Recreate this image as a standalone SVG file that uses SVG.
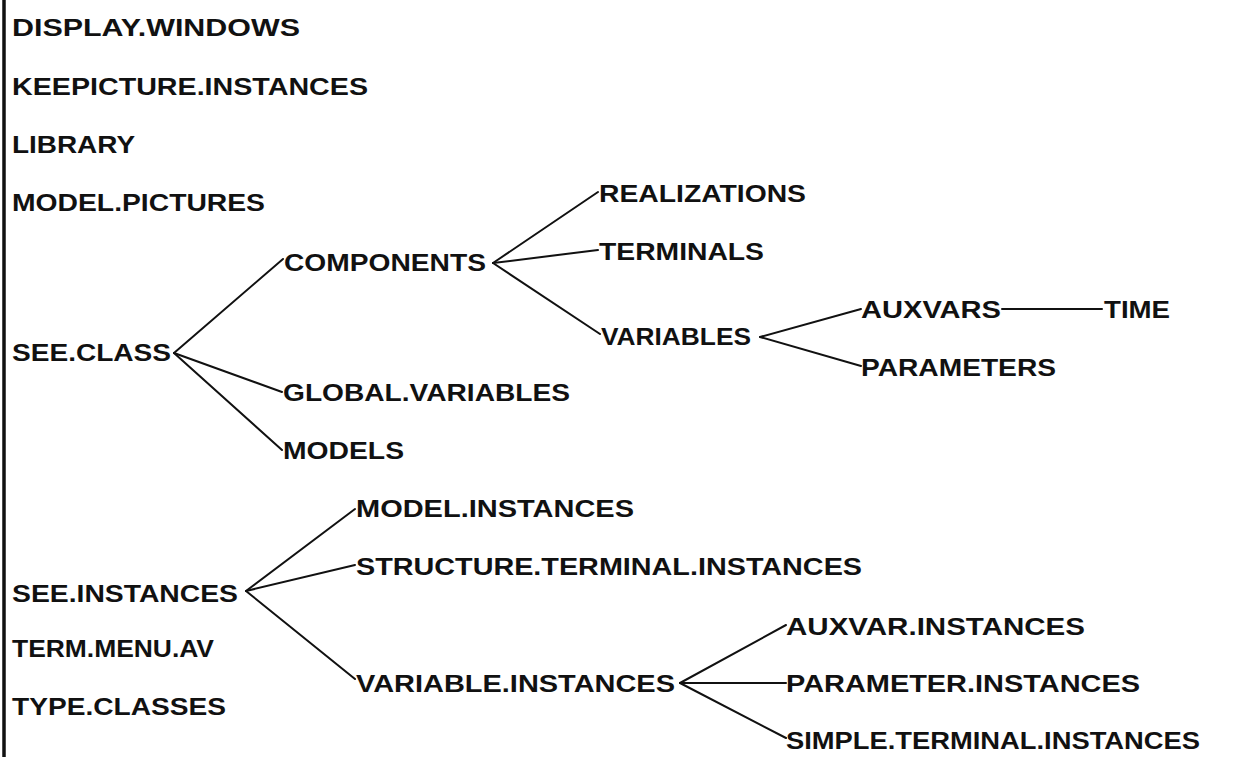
<svg xmlns="http://www.w3.org/2000/svg" width="1237" height="757" viewBox="0 0 1237 757">
<style>
text{font-family:"Liberation Sans",Arial,sans-serif;font-weight:bold;font-size:24px;fill:#111;}
.c line{stroke:#111;stroke-width:2;stroke-linecap:round;}
</style>
<rect x="0" y="0" width="1237" height="757" fill="#fff"/>
<line x1="4" y1="0" x2="4" y2="757" stroke="#111" stroke-width="3.5"/>
<g id="connectors" class="c">
<line x1="174" y1="353" x2="283" y2="259"/>
<line x1="174" y1="353" x2="282" y2="392"/>
<line x1="174" y1="353" x2="282" y2="450"/>
<line x1="493" y1="263" x2="598" y2="192"/>
<line x1="493" y1="263" x2="598" y2="250"/>
<line x1="493" y1="263" x2="600" y2="334"/>
<line x1="760" y1="337" x2="861" y2="309"/>
<line x1="760" y1="337" x2="861" y2="366"/>
<line x1="1002" y1="309" x2="1102" y2="309"/>
<line x1="246" y1="591" x2="355" y2="509"/>
<line x1="246" y1="591" x2="355" y2="565"/>
<line x1="246" y1="591" x2="355" y2="679"/>
<line x1="680" y1="683" x2="786" y2="625"/>
<line x1="680" y1="683" x2="786" y2="683"/>
<line x1="680" y1="683" x2="786" y2="738"/>
</g>
<g id="display-windows"><text x="12" y="36" textLength="288" lengthAdjust="spacingAndGlyphs">DISPLAY.WINDOWS</text></g>
<g id="keepicture-instances"><text x="12" y="95" textLength="356" lengthAdjust="spacingAndGlyphs">KEEPICTURE.INSTANCES</text></g>
<g id="library"><text x="12" y="153" textLength="123" lengthAdjust="spacingAndGlyphs">LIBRARY</text></g>
<g id="model-pictures"><text x="12" y="211" textLength="253" lengthAdjust="spacingAndGlyphs">MODEL.PICTURES</text></g>
<g id="see-class"><text x="12" y="361" textLength="159" lengthAdjust="spacingAndGlyphs">SEE.CLASS</text></g>
<g id="components"><text x="284" y="271" textLength="202" lengthAdjust="spacingAndGlyphs">COMPONENTS</text></g>
<g id="realizations"><text x="599" y="202" textLength="207" lengthAdjust="spacingAndGlyphs">REALIZATIONS</text></g>
<g id="terminals"><text x="599" y="260" textLength="165" lengthAdjust="spacingAndGlyphs">TERMINALS</text></g>
<g id="variables"><text x="601" y="345" textLength="150" lengthAdjust="spacingAndGlyphs">VARIABLES</text></g>
<g id="auxvars"><text x="861" y="318" textLength="140" lengthAdjust="spacingAndGlyphs">AUXVARS</text></g>
<g id="time"><text x="1104" y="318" textLength="66" lengthAdjust="spacingAndGlyphs">TIME</text></g>
<g id="parameters"><text x="861" y="376" textLength="195" lengthAdjust="spacingAndGlyphs">PARAMETERS</text></g>
<g id="global-variables"><text x="283" y="401" textLength="287" lengthAdjust="spacingAndGlyphs">GLOBAL.VARIABLES</text></g>
<g id="models"><text x="283" y="459" textLength="121" lengthAdjust="spacingAndGlyphs">MODELS</text></g>
<g id="model-instances"><text x="356" y="517" textLength="278" lengthAdjust="spacingAndGlyphs">MODEL.INSTANCES</text></g>
<g id="structure-terminal-instances"><text x="356" y="575" textLength="506" lengthAdjust="spacingAndGlyphs">STRUCTURE.TERMINAL.INSTANCES</text></g>
<g id="see-instances"><text x="12" y="602" textLength="226" lengthAdjust="spacingAndGlyphs">SEE.INSTANCES</text></g>
<g id="term-menu-av"><text x="12" y="657" textLength="202" lengthAdjust="spacingAndGlyphs">TERM.MENU.AV</text></g>
<g id="type-classes"><text x="12" y="715" textLength="214" lengthAdjust="spacingAndGlyphs">TYPE.CLASSES</text></g>
<g id="variable-instances"><text x="356" y="692" textLength="319" lengthAdjust="spacingAndGlyphs">VARIABLE.INSTANCES</text></g>
<g id="auxvar-instances"><text x="786" y="635" textLength="299" lengthAdjust="spacingAndGlyphs">AUXVAR.INSTANCES</text></g>
<g id="parameter-instances"><text x="786" y="692" textLength="354" lengthAdjust="spacingAndGlyphs">PARAMETER.INSTANCES</text></g>
<g id="simple-terminal-instances"><text x="786" y="749" textLength="414" lengthAdjust="spacingAndGlyphs">SIMPLE.TERMINAL.INSTANCES</text></g>
</svg>
